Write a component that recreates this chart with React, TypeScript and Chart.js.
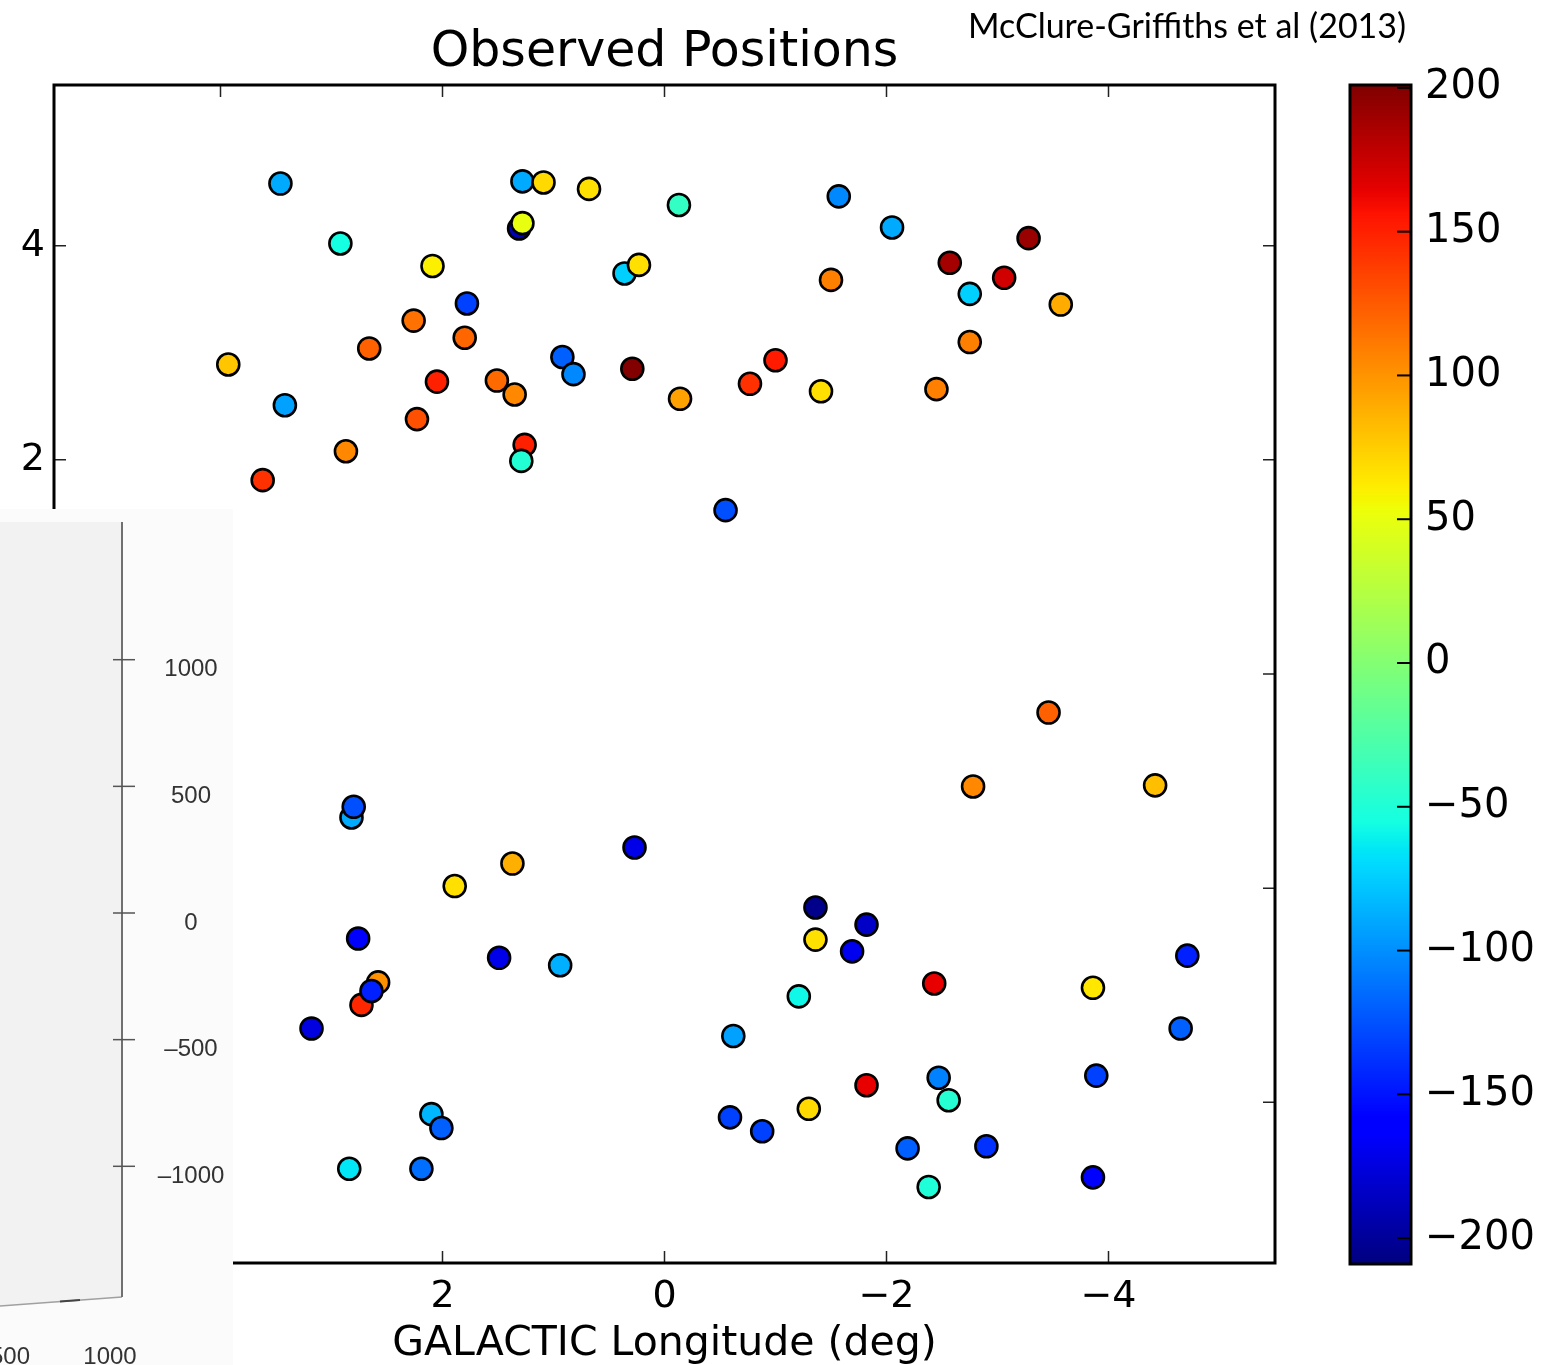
import React, { useEffect, useRef } from 'react';
import { Chart, registerables } from 'chart.js';

Chart.register(...registerables);

// Cloud positions (galactic longitude / latitude, deg) and LSR velocity (km/s)
const longitude = [
  3.46, 2.92, 2.09, 1.78, 2.26, 2.66, 1.80, 3.93, 2.05, 1.51, 1.35, 3.42, 2.23, 2.87, 3.62,
  1.26, 1.29, 1.28, 1.09, 0.68, -0.13, 1.31, 1.28, 0.36, 0.23, 0.92, 0.82, 0.29, -0.14,
  -1.57, -2.05, -3.28, -2.57, -3.06, -2.75, -3.57, -1.50, -2.75, -1.00, -0.77, -1.41, -2.45, -0.55,
  2.82, 2.80, 1.89, 1.37, 0.27, 2.76, 1.49, 0.94, 2.58, 2.73, 2.64, 3.18, 2.10, 2.01, 2.84, 2.19,
  -3.46, -2.78, -4.42, -1.36, -1.82, -1.36, -1.69, -4.71, -2.43, -3.86, -1.21, -0.62, -4.65,
  -3.89, -1.82, -2.47, -2.56, -0.59, -0.88, -1.30, -2.19, -2.90, -2.38, -3.86,
];

const latitude = [
  4.58, 4.02, 3.81, 3.46, 3.30, 3.04, 3.14, 2.89, 2.73, 2.74, 2.61, 2.51, 2.38, 2.08, 1.81,
  2.14, 1.99, 4.60, 4.59, 4.53, 4.38, 4.16, 4.21, 3.74, 3.82, 2.96, 2.80, 2.85, 2.57,
  4.46, 4.17, 4.07, 3.84, 3.70, 3.55, 3.45, 3.68, 3.10, 2.93, 2.71, 2.64, 2.66, 1.53,
  -1.34, -1.24, -1.98, -1.77, -1.62, -2.47, -2.65, -2.72, -2.88, -3.09, -2.96, -3.31, -4.11, -4.24, -4.62, -4.62,
  -0.36, -1.05, -1.04, -2.18, -2.34, -2.48, -2.59, -2.63, -2.89, -2.93, -3.01, -3.38, -3.31,
  -3.75, -3.84, -3.77, -3.98, -4.14, -4.27, -4.06, -4.43, -4.41, -4.79, -4.70,
];

const velocity = [
  -89, -55, 60, -132, 115, 122, 120, 78, 150, 118, 105, -93, 130, 105, 143,
  150, -48, -89, 70, 67, -40, -190, 50, -74, 67, -119, -103, 200, 94,
  -103, -89, 192, 188, 172, -74, 90, 109, 109, 153, 143, 67, 109, -126,
  -89, -126, 67, 88, -172, -160, -172, -87, 101, 147, -145, -175, -84, -119, -65, -113,
  122, 105, 81, -205, -184, 67, -169, -145, 164, 64, -58, -93, -119,
  -132, 164, -106, -47, -132, -132, 70, -119, -138, -50, -160,
];

const axisTicks = [-4, -2, 0, 2, 4];
const colorbarTicks = [-200, -150, -100, -50, 0, 50, 100, 150, 200];
const velocityMin = -209;
const velocityMax = 201;

// Tick values of the small 3D panel pasted over the lower-left corner
const insetSideTicks = [1000, 500, 0, -500, -1000];
const insetBottomTicks = [500, 1000];

const FONT = 'DejaVu Sans';

// matplotlib "jet" segment data
const JET: Record<'r' | 'g' | 'b', number[][]> = {
  r: [[0, 0], [0.35, 0], [0.66, 1], [0.89, 1], [1, 0.5]],
  g: [[0, 0], [0.125, 0], [0.375, 1], [0.64, 1], [0.91, 0], [1, 0]],
  b: [[0, 0.5], [0.11, 1], [0.34, 1], [0.65, 0], [1, 0]],
};

function channel(seg: number[][], t: number) {
  for (let i = 1; i < seg.length; i++) {
    if (t <= seg[i][0]) {
      const [x0, y0] = seg[i - 1];
      const [x1, y1] = seg[i];
      return y0 + ((t - x0) / (x1 - x0)) * (y1 - y0);
    }
  }
  return seg[seg.length - 1][1];
}

function jet(t: number) {
  const c = Math.max(0, Math.min(1, t));
  const r = Math.round(channel(JET.r, c) * 255);
  const g = Math.round(channel(JET.g, c) * 255);
  const b = Math.round(channel(JET.b, c) * 255);
  return `rgb(${r},${g},${b})`;
}

const norm = (v: number) => (v - velocityMin) / (velocityMax - velocityMin);
const fmt = (v: number) => (v < 0 ? '\u2212' + Math.abs(v) : String(v));

const frameAndTicks = {
  id: 'frameAndTicks',
  beforeDatasetsDraw(chart: any) {
    const { ctx, chartArea, scales } = chart;
    const { left, right, top, bottom } = chartArea;
    ctx.save();
    ctx.strokeStyle = '#222';
    ctx.lineWidth = 1.5;
    for (const v of axisTicks) {
      const px = scales.x.getPixelForValue(v);
      const py = scales.y.getPixelForValue(v);
      ctx.beginPath();
      ctx.moveTo(px, top); ctx.lineTo(px, top + 12);
      ctx.moveTo(px, bottom); ctx.lineTo(px, bottom - 12);
      ctx.moveTo(left, py); ctx.lineTo(left + 12, py);
      ctx.moveTo(right, py); ctx.lineTo(right - 12, py);
      ctx.stroke();
    }
    ctx.strokeStyle = '#000';
    ctx.lineWidth = 3;
    ctx.strokeRect(left, top, right - left, bottom - top);
    ctx.restore();
  },
};

const overlays = {
  id: 'overlays',
  afterDraw(chart: any) {
    const { ctx } = chart;
    ctx.save();
    // citation
    ctx.fillStyle = '#000';
    ctx.font = '34px Lato';
    ctx.textAlign = 'left';
    ctx.textBaseline = 'middle';
    ctx.fillText('McClure-Griffiths et al (2013)', 968, 27);

    // inset panel
    ctx.fillStyle = '#fbfbfb';
    ctx.fillRect(0, 509, 233, 860);
    ctx.fillStyle = '#f1f2f1';
    ctx.beginPath();
    ctx.moveTo(0, 522);
    ctx.lineTo(122, 522);
    ctx.lineTo(122, 1297);
    ctx.lineTo(0, 1306);
    ctx.closePath();
    ctx.fill();
    ctx.strokeStyle = '#a0a0a0';
    ctx.lineWidth = 1.5;
    ctx.beginPath();
    ctx.moveTo(0, 1306);
    ctx.lineTo(122, 1297);
    ctx.stroke();
    ctx.strokeStyle = '#444';
    ctx.lineWidth = 2;
    ctx.beginPath();
    ctx.moveTo(60, 1301.5);
    ctx.lineTo(80, 1300);
    ctx.stroke();
    ctx.strokeStyle = '#707070';
    ctx.lineWidth = 2;
    ctx.beginPath();
    ctx.moveTo(122, 522);
    ctx.lineTo(122, 1297);
    ctx.stroke();

    const insetY = (v: number) => 913 - v * 0.2533;
    ctx.strokeStyle = '#555';
    ctx.lineWidth = 1.5;
    ctx.fillStyle = '#333';
    ctx.font = '24px "Liberation Sans"';
    ctx.textAlign = 'center';
    for (const v of insetSideTicks) {
      const y = insetY(v);
      ctx.beginPath();
      ctx.moveTo(113, y);
      ctx.lineTo(135, y);
      ctx.stroke();
      ctx.fillText(v < 0 ? '\u2013' + Math.abs(v) : String(v), 191, y + 10);
    }
    const insetX = (v: number) => 110 - (1000 - v) * 0.2;
    for (const v of insetBottomTicks) {
      ctx.fillText(String(v), insetX(v), 1357);
    }
    ctx.restore();
  },
};

const colorbarFrame = {
  id: 'colorbarFrame',
  afterDatasetsDraw(chart: any) {
    const { ctx, chartArea, scales } = chart;
    const { left, right, top, bottom } = chartArea;
    ctx.save();
    ctx.strokeStyle = '#000';
    ctx.lineWidth = 2;
    for (const v of colorbarTicks) {
      const py = scales.y.getPixelForValue(v);
      ctx.beginPath();
      ctx.moveTo(right - 14, py);
      ctx.lineTo(right, py);
      ctx.stroke();
    }
    ctx.lineWidth = 3;
    ctx.strokeRect(left, top, right - left, bottom - top);
    ctx.restore();
  },
};

export default function App() {
  const mainRef = useRef<HTMLCanvasElement>(null);
  const barRef = useRef<HTMLCanvasElement>(null);

  useEffect(() => {
    document.body.style.margin = '0';
    const points = longitude.map((x, i) => ({ x, y: latitude[i] }));
    const fills = velocity.map((v) => jet(norm(v)));

    const main = new Chart(mainRef.current!, {
      type: 'scatter',
      data: {
        datasets: [
          {
            data: points,
            backgroundColor: fills,
            borderColor: '#000',
            borderWidth: 2.6,
            pointRadius: 11,
            pointHoverRadius: 11,
          },
        ],
      },
      options: {
        animation: false,
        responsive: false,
        devicePixelRatio: 1,
        events: [],
        layout: { padding: { left: 0, right: 271, top: 0, bottom: 0 } },
        plugins: {
          legend: { display: false },
          tooltip: { enabled: false },
          title: {
            display: true,
            text: 'Observed Positions',
            fullSize: false,
            color: '#000',
            font: { family: FONT, size: 49, weight: 'normal', lineHeight: 1.2 },
            padding: { top: 24, bottom: 2.2 },
          },
        },
        scales: {
          x: {
            type: 'linear',
            min: -5.5,
            max: 5.5,
            reverse: true,
            grid: { display: false, drawTicks: false },
            border: { display: false },
            afterBuildTicks: (s: any) => {
              s.ticks = axisTicks.map((value) => ({ value }));
            },
            afterFit: (s: any) => {
              s.height = 102;
            },
            ticks: {
              padding: 11,
              color: '#000',
              autoSkip: false,
              maxRotation: 0,
              font: { family: FONT, size: 38 },
              callback: (v: any) => fmt(Number(v)),
            },
            title: {
              display: true,
              text: 'GALACTIC Longitude (deg)',
              color: '#000',
              font: { family: FONT, size: 41 },
              padding: { top: 0, bottom: -4 },
            },
          },
          y: {
            type: 'linear',
            min: -5.5,
            max: 5.5,
            grid: { display: false, drawTicks: false },
            border: { display: false },
            afterBuildTicks: (s: any) => {
              s.ticks = axisTicks.map((value) => ({ value }));
            },
            afterFit: (s: any) => {
              s.width = 54;
            },
            ticks: {
              padding: 9,
              color: '#000',
              autoSkip: false,
              font: { family: FONT, size: 38 },
              callback: (v: any) => fmt(Number(v)),
            },
          },
        },
      },
      plugins: [frameAndTicks, overlays],
    } as any);

    const bar = new Chart(barRef.current!, {
      type: 'bar',
      data: {
        labels: ['velocity'],
        datasets: [
          {
            data: [[velocityMin, velocityMax]] as any,
            barPercentage: 1,
            categoryPercentage: 1,
            borderWidth: 0,
            backgroundColor: (c: any) => {
              const area = c.chart.chartArea;
              if (!area) return '#888';
              const g = c.chart.ctx.createLinearGradient(0, area.bottom, 0, area.top);
              for (let i = 0; i <= 128; i++) {
                const t = i / 128;
                g.addColorStop(t, jet(t));
              }
              return g;
            },
          },
        ],
      },
      options: {
        animation: false,
        responsive: false,
        devicePixelRatio: 1,
        events: [],
        layout: { padding: { left: 20, right: 0, top: 85, bottom: 101 } },
        plugins: { legend: { display: false }, tooltip: { enabled: false } },
        scales: {
          x: { display: false },
          y: {
            position: 'right',
            min: velocityMin,
            max: velocityMax,
            grid: { display: false, drawTicks: false },
            border: { display: false },
            afterBuildTicks: (s: any) => {
              s.ticks = colorbarTicks.map((value) => ({ value }));
            },
            afterFit: (s: any) => {
              s.width = 135;
            },
            ticks: {
              padding: 14,
              color: '#000',
              autoSkip: false,
              font: { family: FONT, size: 40 },
              callback: (v: any) => fmt(Number(v)),
            },
          },
        },
      },
      plugins: [colorbarFrame],
    } as any);

    return () => {
      main.destroy();
      bar.destroy();
    };
  }, []);

  return (
    <div style={{ position: 'relative', width: 1546, height: 1365, background: '#fff', overflow: 'hidden' }}>
      <canvas ref={mainRef} width={1546} height={1365} style={{ position: 'absolute', left: 0, top: 0 }} />
      <canvas ref={barRef} width={216} height={1365} style={{ position: 'absolute', left: 1330, top: 0 }} />
    </div>
  );
}
